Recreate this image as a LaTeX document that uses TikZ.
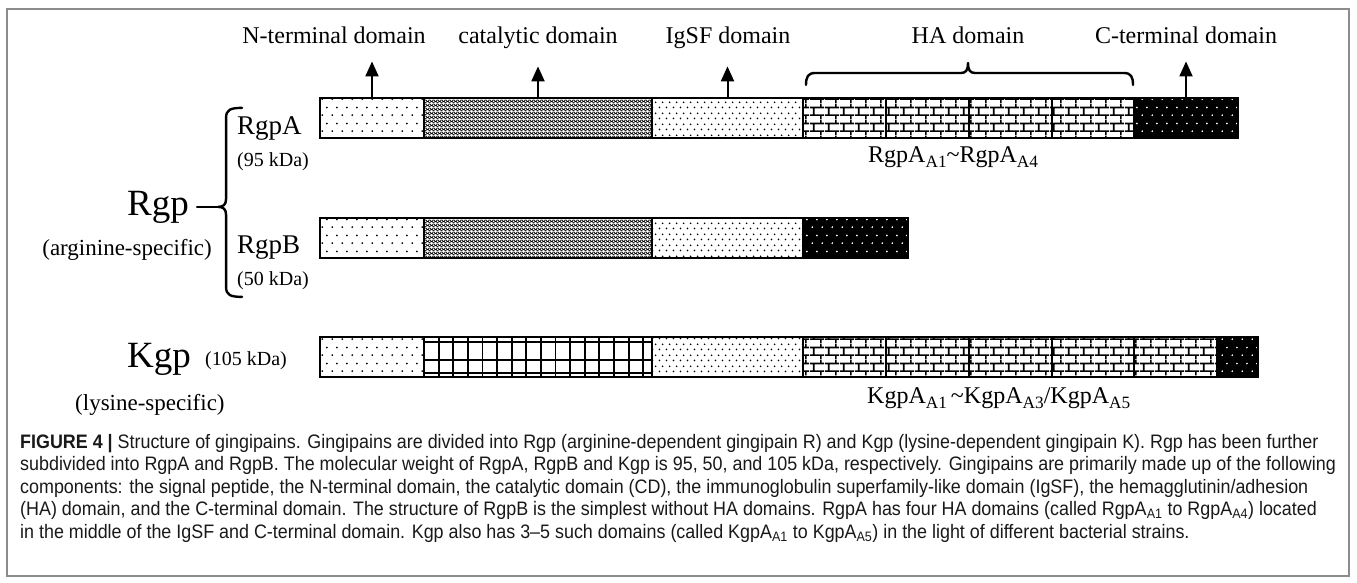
\documentclass[tikz,border=0pt]{standalone}
\usepackage{fontspec}
\setmainfont{Liberation Serif}
\newfontfamily\capfont[FakeStretch=0.918,Ligatures=TeX]{Liberation Sans}
\usetikzlibrary{patterns.meta,arrows.meta,calc}
\newcommand\fsz[1]{\fontsize{#1}{#1}\selectfont}
\newcommand\sbs[1]{\raisebox{-0.22em}{\scalebox{0.72}{#1}}}

\tikzdeclarepattern{name=ntdots, bottom left={(0pt,0pt)}, top right={(10pt,16pt)}, tile size={(10pt,16pt)},
  code={\fill (2.5pt,4pt) circle (1.05pt); \fill (7.5pt,12pt) circle (1.05pt);}}
\tikzdeclarepattern{name=igdots, bottom left={(0pt,0pt)}, top right={(7pt,11pt)}, tile size={(7pt,11pt)},
  code={\fill (1.75pt,2.75pt) circle (1pt); \fill (5.25pt,8.25pt) circle (1pt);}}
\tikzdeclarepattern{name=cdots, bottom left={(0pt,0pt)}, top right={(10pt,16pt)}, tile size={(10pt,16pt)},
  code={\fill (2.5pt,4pt) circle (1pt); \fill (7.5pt,12pt) circle (1pt);}}
\tikzdeclarepattern{name=xhatch, type=colored, bottom left={(0pt,0pt)}, top right={(4pt,4pt)}, tile size={(4pt,4pt)},
  code={\fill[black] (0pt,0pt) rectangle (4pt,4pt);
        \fill[white] (2pt,0.8pt) -- (3.2pt,2pt) -- (2pt,3.2pt) -- (0.8pt,2pt) -- cycle
          (0pt,-1.2pt) -- (1.2pt,0pt) -- (0pt,1.2pt) -- (-1.2pt,0pt) -- cycle
          (4pt,-1.2pt) -- (5.2pt,0pt) -- (4pt,1.2pt) -- (2.8pt,0pt) -- cycle
          (0pt,2.8pt) -- (1.2pt,4pt) -- (0pt,5.2pt) -- (-1.2pt,4pt) -- cycle
          (4pt,2.8pt) -- (5.2pt,4pt) -- (4pt,5.2pt) -- (2.8pt,4pt) -- cycle;}}
\tikzdeclarepattern{name=bricks, bottom left={(0pt,0pt)}, top right={(15pt,16pt)}, tile size={(15pt,16pt)},
  code={\draw[line width=1.7pt] (0pt,4pt) -- (15pt,4pt) (0pt,12pt) -- (15pt,12pt)
        (4pt,4pt) -- (4pt,12pt) (11.5pt,12pt) -- (11.5pt,16pt) (11.5pt,0pt) -- (11.5pt,4pt);}}

\tikzset{
  seg/.style={draw=black, line width=2.2pt, minimum height=40, inner sep=0pt, outer sep=0pt, anchor=north west},
  nt/.style={seg, pattern=ntdots},
  cat/.style={seg, pattern=xhatch},
  ig/.style={seg, pattern=igdots},
  ha/.style={seg, line width=2pt, pattern=bricks},
  ct/.style={seg, preaction={fill=black}, pattern=cdots, pattern color=white},
  grid/.style={seg},
  barout/.style={line width=2.6pt},
  arr/.style={-{Triangle[length=15pt,width=13pt]}, line width=2pt, shorten >=17pt},
  brc/.style={line width=2.4pt, line cap=round, line join=round},
  lab/.style={inner sep=0pt, font=\fsz{24}},
  capl/.style={inner sep=0pt, anchor=base west, font=\capfont\fsz{19.5}, text=black!90},
}

\begin{document}
\begin{tikzpicture}[x=1pt,y=-1pt]
\useasboundingbox (0,0) rectangle (1357,583);
\fill[white] (0,0) rectangle (1357,583);
\draw[black!45, line width=1.5pt] (7,9) rectangle (1349,576);

% RgpA bar
\node[nt, minimum width=104] (aN) at (320,98) {};
\node[cat, minimum width=228] (aCat) at (424,98) {};
\node[ig, minimum width=151] (aIg) at (652,98) {};
\node[ha, minimum width=83] (aH1) at (803,98) {};
\node[ha, minimum width=83] (aH2) at (886,98) {};
\node[ha, minimum width=83] (aH3) at (969,98) {};
\node[ha, minimum width=82] (aH4) at (1052,98) {};
\node[ct, minimum width=104] (aC) at (1134,98) {};
\draw[barout] (aN.north west) rectangle (aC.south east);

% RgpB bar
\node[nt, minimum width=104] (bN) at (320,218) {};
\node[cat, minimum width=228] (bCat) at (424,218) {};
\node[ig, minimum width=151] (bIg) at (652,218) {};
\node[ct, minimum width=105] (bC) at (803,218) {};
\draw[barout] (bN.north west) rectangle (bC.south east);

% Kgp bar
\node[nt, minimum width=104] (kN) at (320,337) {};
\node[grid, minimum width=228] (kCat) at (424,337) {};
\foreach \i in {1,...,15}
  \draw[line width=1.8pt] ($(kCat.north west)!\i/15.6!(kCat.north east)$) -- ($(kCat.south west)!\i/15.6!(kCat.south east)$);
\foreach \f in {0.13,0.58,0.9}
  \draw[line width=1.8pt] ($(kCat.north west)!\f!(kCat.south west)$) -- ($(kCat.north east)!\f!(kCat.south east)$);
\node[ig, minimum width=151] (kIg) at (652,337) {};
\node[ha, minimum width=83] (kH1) at (803,337) {};
\node[ha, minimum width=83] (kH2) at (886,337) {};
\node[ha, minimum width=83] (kH3) at (969,337) {};
\node[ha, minimum width=82] (kH4) at (1052,337) {};
\node[ha, minimum width=83] (kH5) at (1134,337) {};
\node[ct, minimum width=41] (kC) at (1217,337) {};
\draw[barout] (kN.north west) rectangle (kC.south east);

% top labels
\node[lab, anchor=base] (lN) at (334,44) {N-terminal domain};
\node[lab, anchor=base] (lCat) at (538,44) {catalytic domain};
\node[lab, anchor=base] (lIg) at (728,44) {IgSF domain};
\node[lab, anchor=base] (lHA) at (968,44) {HA domain};
\node[lab, anchor=base] (lC) at (1186,44) {C-terminal domain};

\draw[arr] (aN.north) -- (aN.north |- lN.south);
\draw[arr] (aCat.north) -- (aCat.north |- lCat.south);
\draw[arr] (aIg.north) -- (aIg.north |- lIg.south);
\draw[arr] (aC.north) -- (aC.north |- lC.south);

% HA brace
\draw[brc] (806,85) .. controls (806,77) and (808,73) .. (815,73) -- (961,73)
  .. controls (966,73) and (968,70) .. (968,63)
  .. controls (968,70) and (970,73) .. (975,73) -- (1124,73)
  .. controls (1131,73) and (1133,77) .. (1133,85);

% left labels
\node[inner sep=0pt, anchor=base west, font=\fsz{37}] (rgp) at (127,215) {Rgp};
\coordinate (cusp) at ([xshift=29pt]rgp.east);
\draw[brc] ([xshift=8pt]rgp.east) -- (cusp);
\draw[brc] ($(cusp)+(24,-99)$) .. controls ($(cusp)+(12,-99)$) and ($(cusp)+(8,-97)$) .. ($(cusp)+(8,-89)$)
  -- ($(cusp)+(8,-8)$) .. controls ($(cusp)+(8,-2)$) and ($(cusp)+(5,0)$) .. (cusp)
  .. controls ($(cusp)+(5,0)$) and ($(cusp)+(8,2)$) .. ($(cusp)+(8,8)$)
  -- ($(cusp)+(8,80)$) .. controls ($(cusp)+(8,88)$) and ($(cusp)+(12,90)$) .. ($(cusp)+(24,90)$);
\node[inner sep=0pt, anchor=base east, font=\fsz{23}] (argsp) at (212,255) {(arginine-specific)};
\node[inner sep=0pt, anchor=base west, font=\fsz{27}] (rgpa) at (237,135) {RgpA};
\node[inner sep=0pt, anchor=base west, font=\fsz{20}] (rgpakd) at (237,167) {(95 kDa)};
\node[inner sep=0pt, anchor=base west, font=\fsz{27}] (rgpb) at (237,253) {RgpB};
\node[inner sep=0pt, anchor=base west, font=\fsz{20}] (rgpbkd) at (237,285) {(50 kDa)};
\node[inner sep=0pt, anchor=base west, font=\fsz{37}] (kgp) at (127,367) {Kgp};
\node[inner sep=0pt, anchor=base west, font=\fsz{20}] (kgpkd) at (205,365) {(105 kDa)};
\node[inner sep=0pt, anchor=base west, font=\fsz{23}] (lyssp) at (75,410) {(lysine-specific)};

\node[inner sep=0pt, anchor=base west, font=\fsz{24}] (haA) at (868,162) {RgpA\sbs{A1}\textasciitilde RgpA\sbs{A4}};
\node[inner sep=0pt, anchor=base west, font=\fsz{24}] (haK) at (867,403) {KgpA\sbs{A1}\,\textasciitilde KgpA\sbs{A3}/KgpA\sbs{A5}};

% caption
\node[capl] (cap1) at (20,448) {\textbf{FIGURE 4 |} Structure of gingipains. Gingipains are divided into Rgp (arginine-dependent gingipain R) and Kgp (lysine-dependent gingipain K). Rgp has been further};
\node[capl] (cap2) at (20,470.5) {subdivided into RgpA and RgpB. The molecular weight of RgpA, RgpB and Kgp is 95, 50, and 105 kDa, respectively. Gingipains are primarily made up of the following};
\node[capl] (cap3) at (20,493) {components: the signal peptide, the N-terminal domain, the catalytic domain (CD), the immunoglobulin superfamily-like domain (IgSF), the hemagglutinin/adhesion};
\node[capl] (cap4) at (20,515.5) {(HA) domain, and the C-terminal domain. The structure of RgpB is the simplest without HA domains. RgpA has four HA domains (called RgpA\textsubscript{A1} to RgpA\textsubscript{A4}) located};
\node[capl] (cap5) at (20,538) {in the middle of the IgSF and C-terminal domain. Kgp also has 3\textendash 5 such domains (called KgpA\textsubscript{A1} to KgpA\textsubscript{A5}) in the light of different bacterial strains.};
\end{tikzpicture}
\end{document}
